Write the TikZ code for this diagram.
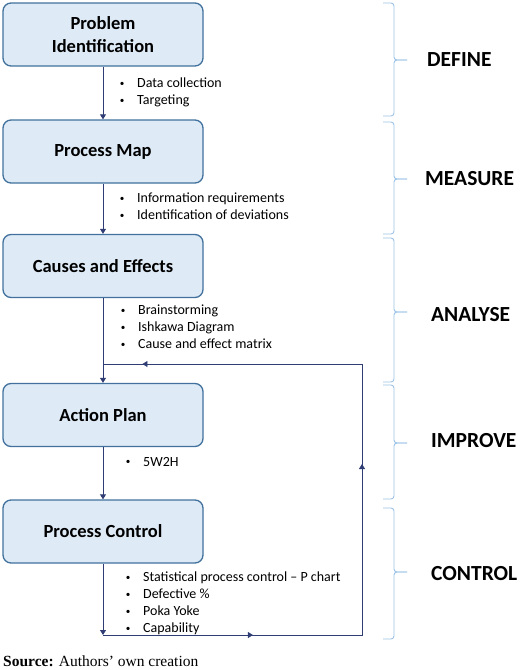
\documentclass[tikz,border=0pt]{standalone}
\usepackage{fontspec}
\setmainfont{Carlito}
\newfontfamily\srcfont{Liberation Serif}
\usepackage{xcolor}
\usepackage{tikz}
\usetikzlibrary{arrows.meta}
\usetikzlibrary{decorations.markings}
\definecolor{boxfill}{HTML}{DEEBF7}
\definecolor{boxline}{HTML}{41719C}
\definecolor{conn}{HTML}{2F3D74}
\definecolor{bracecol}{HTML}{9DC3E6}
\newcommand{\itm}[1]{\makebox[7pt]{\raisebox{1.3pt}{\scalebox{0.65}{\textbullet}}}\hspace{11.5pt}#1}

\begin{document}
\begin{tikzpicture}[x=1pt,y=-1pt,
    stage/.style={draw=boxline,fill=boxfill,rounded corners=8pt,line width=1.3pt,
        minimum width=200pt,minimum height=63pt,align=center,
        font=\fontsize{18.5}{23}\selectfont\bfseries},
    flow/.style={draw=conn,line width=0.9pt,-{Triangle[width=6pt,length=5pt]}},
    notes/.style={anchor=north west,inner sep=0pt,align=left,
        font=\fontsize{14}{17}\selectfont},
    phase/.style={anchor=west,inner sep=0pt,font=\fontsize{21.5}{24}\selectfont\bfseries},
    phasebrace/.style={draw=bracecol,line width=0.9pt,rounded corners=3pt}]
    \useasboundingbox (0,0) rectangle (520,670);
    \node[stage] (ident) at (103,34.5) {Problem\\Identification};
    \node[stage] (map) at (103,151.5) {Process Map};
    \node[stage] (cause) at (103,266) {Causes and Effects};
    \node[stage] (plan) at (103,415) {Action Plan};
    \node[stage] (ctrl) at (103,531.5) {Process Control};
    \node[notes] (n1) at (118.5,77.5) {\itm{Data collection}\\\itm{Targeting}};
    \node[notes] (n2) at (118.5,192.5) {\itm{Information requirements}\\\itm{Identification of deviations}};
    \node[notes] (n3) at (119.5,304.5) {\itm{Brainstorming}\\\itm{Ishkawa Diagram}\\\itm{Cause and effect matrix}};
    \node[notes] (n4) at (124.5,457) {\itm{5W2H}};
    \node[notes] (n5) at (124.5,572) {\itm{Statistical process control -- P chart}\\\itm{Defective \%}\\\itm{Poka Yoke}\\\itm{Capability}};
    \coordinate (loopbl) at (103,635);
    \coordinate (loopbr) at (362,635);
    \coordinate (looptr) at (362,364);
    \coordinate (looptl) at (103,364);
    \draw[flow] (ident) -- (map);
    \draw[flow] (map) -- (cause);
    \draw[flow] (cause) -- (plan);
    \draw[flow] (plan) -- (ctrl);
    \draw[flow] (ctrl) -- (loopbl);
    \draw[draw=conn,line width=0.9pt,postaction=decorate,decoration={markings,
        mark=at position 0.19 with {\arrow{Triangle[width=6pt,length=5pt]}},
        mark=at position 0.545 with {\arrow{Triangle[width=6pt,length=5pt]}},
        mark=at position 0.95 with {\arrow{Triangle[width=6pt,length=5pt]}}}]
        (loopbl) -- (loopbr) -- (looptr) -- (looptl);
    \foreach \top/\mid/\bot in {3/60/116,122/179/234,238/312/382,385/443/499,508/572/639}{
        \draw[phasebrace] (383,\top) -- (394,\top) -- (394,\mid) -- (407,\mid);
        \draw[phasebrace] (407,\mid) -- (394,\mid) -- (394,\bot) -- (383,\bot);
    }
    \node[phase] (define) at (427,60) {DEFINE};
    \node[phase] (measure) at (425,179) {MEASURE};
    \node[phase] (analyse) at (431,315) {ANALYSE};
    \node[phase] (improve) at (431,441) {IMPROVE};
    \node[phase] (control) at (431,574) {CONTROL};
    \node[anchor=west,inner sep=0pt,font=\srcfont\fontsize{15.5}{18}\selectfont] (source) at (3,661) {\textbf{Source:} Authors’ own creation};
\end{tikzpicture}
\end{document}
